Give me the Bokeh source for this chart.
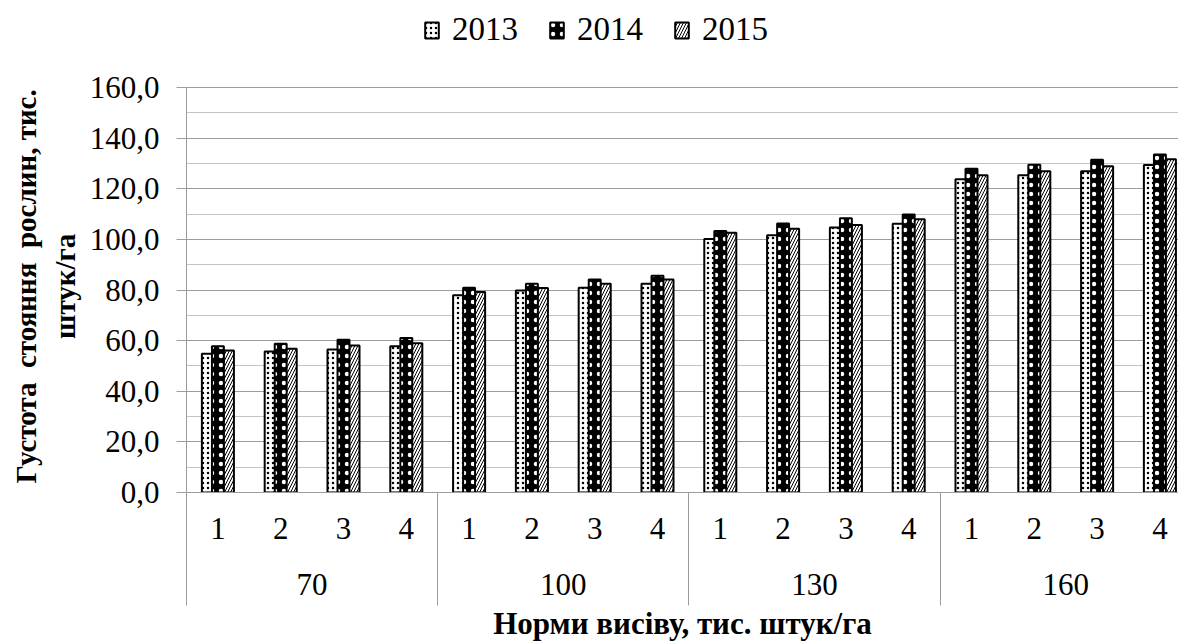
import numpy as np
from bokeh.plotting import figure
from bokeh.models import (ColumnDataSource, Range1d, LinearAxis, FixedTicker,
                          SingleIntervalTicker, CustomJSTickFormatter, Legend, LegendItem)
from bokeh.transform import dodge
from bokeh.embed import file_html
from bokeh.resources import INLINE

# ---- data ----
groups = ["70", "100", "130", "160"]
subs = ["1", "2", "3", "4"]
years = ["2013", "2014", "2015"]
y2013 = [54.8, 55.7, 56.5, 57.8, 77.9, 79.8, 80.9, 82.5,
         100.1, 101.6, 104.7, 106.2, 123.8, 125.3, 126.9, 129.4]
y2014 = [57.8, 58.8, 60.3, 61.0, 80.9, 82.5, 84.1, 85.6,
         103.3, 106.3, 108.3, 109.8, 127.9, 129.5, 131.5, 133.5]
y2015 = [56.1, 56.8, 58.1, 59.0, 79.2, 80.8, 82.5, 84.1,
         102.6, 104.2, 105.7, 108.0, 125.3, 126.9, 128.9, 131.7]
y_title_lines = ["Густота\u00a0 стояння\u00a0 рослин, тис.", "штук/га"]
x_title = "Норми висіву, тис. штук/га"
y_max = 160

# trailing no-break spaces move the (frame-centred) y title toward the 0..160 part
PAD = "\u00a0" * 11
y_title = "\n".join(line + PAD for line in y_title_lines)

n_cat = len(groups) * len(subs)
centers = [i + 0.5 for i in range(n_cat)]
bounds = [float(i * len(subs)) for i in range(len(groups) + 1)]
group_centers = [i * len(subs) + len(subs) / 2 for i in range(len(groups))]
sub_labels = [s for g in groups for s in subs]

src = ColumnDataSource(dict(x=centers, y2013=y2013, y2014=y2014, y2015=y2015))

FONT = "Liberation Serif"
GRID = "#9c9c9c"
MINOR = "#c4c4c4"

FRAME_W = 992
CAT_PX = 62.8
PLOT_H = 405      # pixels from 0 to y_max
TOP_PAD = 87      # room above y_max for the legend
FRAME_H = PLOT_H + TOP_PAD

p = figure(frame_width=FRAME_W, frame_height=FRAME_H,
           x_range=Range1d(0, FRAME_W / CAT_PX),
           y_range=Range1d(0, y_max * FRAME_H / PLOT_H),
           output_backend="svg", toolbar_location=None,
           min_border_left=186, min_border_right=0, min_border_top=0, min_border_bottom=0)
p.outline_line_color = None
p.background_fill_color = "white"

W = 0.17
r13 = p.vbar(x=dodge("x", -W, range=p.x_range), top="y2013", width=W, bottom=0, source=src,
             fill_color="white", line_color="black", line_width=2,
             hatch_pattern="dot", hatch_color="black", hatch_scale=5, hatch_weight=1.2)
r15 = p.vbar(x=dodge("x", W, range=p.x_range), top="y2015", width=W, bottom=0, source=src,
             fill_color="white", line_color="black", line_width=2,
             hatch_pattern="right_diagonal_line", hatch_color="black", hatch_scale=6, hatch_weight=1)
r14 = p.vbar(x="x", top="y2014", width=W + 0.02, bottom=0, source=src,
             fill_color="black", line_color="black", line_width=2,
             hatch_pattern="dot", hatch_color="white", hatch_scale=9, hatch_weight=1)

# ---- y axis ----
yt = SingleIntervalTicker(interval=20, num_minor_ticks=2)
p.yaxis.ticker = yt
p.yaxis.bounds = (0, y_max)
p.ygrid.ticker = yt
p.ygrid.bounds = (0, y_max)
p.yaxis.formatter = CustomJSTickFormatter(code="return tick.toFixed(1).replace('.', ',');")
p.yaxis.axis_line_color = GRID
p.yaxis.major_tick_line_color = GRID
p.yaxis.major_tick_out = 10
p.yaxis.major_tick_in = 0
p.yaxis.minor_tick_line_color = None
p.yaxis.minor_tick_out = 0
p.yaxis.minor_tick_in = 0
p.yaxis.major_label_standoff = 17
p.yaxis.major_label_text_font = FONT
p.yaxis.major_label_text_font_size = "31px"
p.yaxis.major_label_text_color = "black"
p.yaxis.axis_label = y_title
p.yaxis.axis_label_text_font = FONT
p.yaxis.axis_label_text_font_style = "bold"
p.yaxis.axis_label_text_font_size = "29px"
p.yaxis.axis_label_text_color = "black"
p.yaxis.axis_label_standoff = 6
p.ygrid.grid_line_color = GRID
p.ygrid.minor_grid_line_color = MINOR

# ---- x axes ----
xa = p.xaxis[0]
xa.ticker = FixedTicker(ticks=centers, minor_ticks=bounds)
xa.formatter = CustomJSTickFormatter(args=dict(labels=sub_labels),
                                     code="return labels[Math.floor(tick)];")
xa.axis_line_color = GRID
xa.major_tick_out = 0
xa.major_tick_in = 0
xa.major_tick_line_color = None
xa.minor_tick_out = 113
xa.minor_tick_in = 0
xa.minor_tick_line_color = GRID
xa.major_label_standoff = -88
xa.major_label_text_font = FONT
xa.major_label_text_font_size = "31px"
xa.major_label_text_color = "black"
p.xgrid.visible = False

xb = LinearAxis(ticker=FixedTicker(ticks=group_centers),
                formatter=CustomJSTickFormatter(args=dict(labels=groups),
                                                code="return labels[Math.floor(tick / 4)];"))
xb.axis_line_color = None
xb.major_tick_line_color = None
xb.minor_tick_line_color = None
xb.major_tick_out = 0
xb.major_tick_in = 0
xb.minor_tick_out = 0
xb.minor_tick_in = 0
xb.major_label_standoff = 32
xb.major_label_text_font = FONT
xb.major_label_text_font_size = "31px"
xb.major_label_text_color = "black"
xb.axis_label = x_title
xb.axis_label_text_font = FONT
xb.axis_label_text_font_style = "bold"
xb.axis_label_text_font_size = "31px"
xb.axis_label_text_color = "black"
xb.axis_label_standoff = 8
p.add_layout(xb, "below")

# ---- legend (inside the frame, in the room above y_max) ----
legend = Legend(items=[LegendItem(label=years[0], renderers=[r13]),
                       LegendItem(label=years[1], renderers=[r14]),
                       LegendItem(label=years[2], renderers=[r15])],
                orientation="horizontal", location=(237, 444),
                label_text_font=FONT, label_text_font_size="33px", label_text_color="black",
                glyph_width=17, glyph_height=20, label_standoff=12, spacing=30,
                padding=0, margin=0, border_line_color=None, background_fill_alpha=0)
p.add_layout(legend)

open("out.html", "w").write(file_html(p, INLINE))
